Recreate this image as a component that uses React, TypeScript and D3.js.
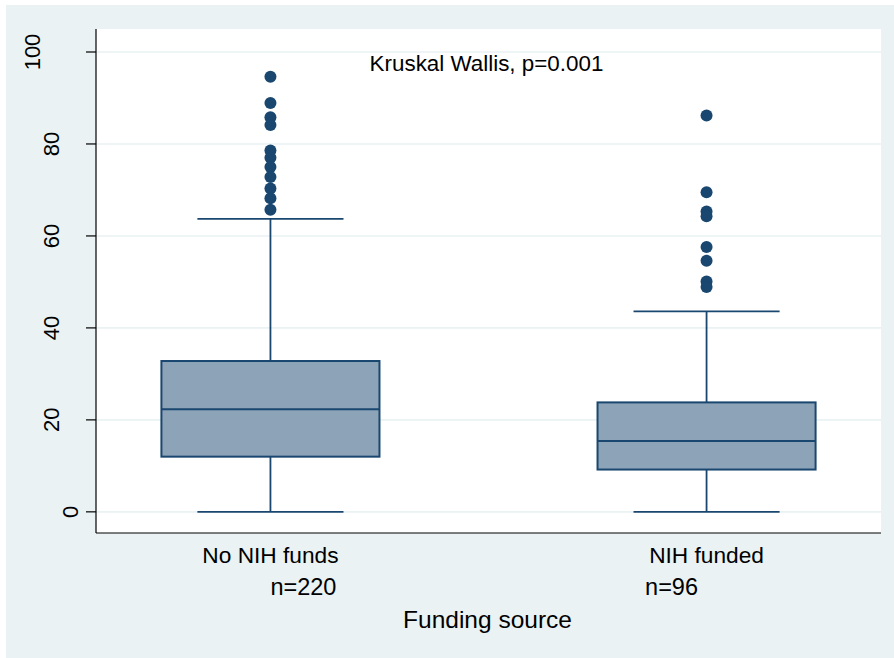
import * as d3 from "d3";
import { useEffect, useRef } from "react";

// data
const groups = ["No NIH funds", "NIH funded"];
const counts = [220, 96];
const lowerWhisker = [0, 0];
const q1 = [12.0, 9.2];
const median = [22.3, 15.4];
const q3 = [32.8, 23.8];
const upperWhisker = [63.7, 43.6];
const outliersNoNih = [94.6, 88.9, 85.8, 84.1, 78.6, 77.0, 75.0, 72.8, 70.3, 68.2, 65.7];
const outliersNih = [86.2, 69.5, 65.3, 64.3, 57.6, 54.6, 50.1, 48.9];
const yTicks = [0, 20, 40, 60, 80, 100];

export default function App() {
    const svgRef = useRef(null);
    const width = 894;
    const height = 658;

    useEffect(() => {
        const svg = d3.select(svgRef.current);
        svg.selectAll("*").remove();

        const navy = "#1a476f";
        const font = "'Liberation Sans', Arial, sans-serif";
        const left = 96, right = 881, top = 29, bottom = 533;

        svg.append("rect").attr("width", width).attr("height", height).attr("fill", "#ffffff");
        svg.append("rect")
            .attr("x", 6).attr("y", 5)
            .attr("width", width - 6).attr("height", height - 5)
            .attr("fill", "#eaf2f3");
        svg.append("rect")
            .attr("x", left).attr("y", top)
            .attr("width", right - left).attr("height", bottom - top)
            .attr("fill", "#ffffff");

        const x = d3.scalePoint().domain(groups).range([left, right]).padding(0.4);
        const y = d3.scaleLinear().domain([-4.6, 105]).range([bottom, top]);
        const step = x.step();
        const boxW = step * 0.5;
        const capW = step * 0.335;

        // grid
        svg.append("g")
            .selectAll("line")
            .data(yTicks)
            .join("line")
            .attr("x1", left).attr("x2", right)
            .attr("y1", d => y(d)).attr("y2", d => y(d))
            .attr("stroke", "#eaf2f3")
            .attr("stroke-width", 1.6);

        const boxes = groups.map((g, i) => ({
            g, lo: lowerWhisker[i], q1: q1[i], med: median[i], q3: q3[i], hi: upperWhisker[i]
        }));

        const bx = svg.append("g");
        // whiskers
        bx.selectAll("line.whisk")
            .data(boxes)
            .join("line")
            .attr("class", "whisk")
            .attr("x1", d => x(d.g)).attr("x2", d => x(d.g))
            .attr("y1", d => y(d.hi)).attr("y2", d => y(d.lo))
            .attr("stroke", navy).attr("stroke-width", 1.8);
        bx.selectAll("line.capHi")
            .data(boxes)
            .join("line")
            .attr("class", "capHi")
            .attr("x1", d => x(d.g) - capW / 2).attr("x2", d => x(d.g) + capW / 2)
            .attr("y1", d => y(d.hi)).attr("y2", d => y(d.hi))
            .attr("stroke", navy).attr("stroke-width", 1.8);
        bx.selectAll("line.capLo")
            .data(boxes)
            .join("line")
            .attr("class", "capLo")
            .attr("x1", d => x(d.g) - capW / 2).attr("x2", d => x(d.g) + capW / 2)
            .attr("y1", d => y(d.lo)).attr("y2", d => y(d.lo))
            .attr("stroke", navy).attr("stroke-width", 1.8);
        bx.selectAll("rect")
            .data(boxes)
            .join("rect")
            .attr("x", d => x(d.g) - boxW / 2)
            .attr("y", d => y(d.q3))
            .attr("width", boxW)
            .attr("height", d => y(d.q1) - y(d.q3))
            .attr("fill", "#8ca3b8")
            .attr("stroke", navy).attr("stroke-width", 2);
        bx.selectAll("line.med")
            .data(boxes)
            .join("line")
            .attr("class", "med")
            .attr("x1", d => x(d.g) - boxW / 2).attr("x2", d => x(d.g) + boxW / 2)
            .attr("y1", d => y(d.med)).attr("y2", d => y(d.med))
            .attr("stroke", navy).attr("stroke-width", 2);

        // outliers
        const pts = [
            ...outliersNoNih.map(v => ({ g: groups[0], v })),
            ...outliersNih.map(v => ({ g: groups[1], v }))
        ];
        svg.append("g")
            .selectAll("circle")
            .data(pts)
            .join("circle")
            .attr("cx", d => x(d.g))
            .attr("cy", d => y(d.v))
            .attr("r", 6)
            .attr("fill", navy);

        // y axis
        const ax = svg.append("g");
        ax.append("line")
            .attr("x1", left).attr("x2", left)
            .attr("y1", top).attr("y2", bottom)
            .attr("stroke", "#000").attr("stroke-width", 1.2);
        ax.selectAll("line.tick")
            .data(yTicks)
            .join("line")
            .attr("class", "tick")
            .attr("x1", left - 10).attr("x2", left)
            .attr("y1", d => y(d)).attr("y2", d => y(d))
            .attr("stroke", "#000").attr("stroke-width", 1.2);
        ax.selectAll("text")
            .data(yTicks)
            .join("text")
            .attr("transform", d => `translate(${97 - 19 * String(d).length},${y(d)}) rotate(-90)`)
            .attr("text-anchor", "middle")
            .attr("font-family", font)
            .attr("font-size", 22)
            .attr("fill", "#000")
            .text(d => d);

        // x axis
        svg.append("line")
            .attr("x1", left).attr("x2", right)
            .attr("y1", bottom).attr("y2", bottom)
            .attr("stroke", "#000").attr("stroke-width", 1.2);
        svg.append("g")
            .selectAll("text")
            .data(groups)
            .join("text")
            .attr("x", d => x(d))
            .attr("y", 563)
            .attr("text-anchor", "middle")
            .attr("font-family", font)
            .attr("font-size", 22.7)
            .text(d => d);

        const nOffset = [33, -35];
        svg.append("g")
            .selectAll("text")
            .data(counts)
            .join("text")
            .attr("x", (d, i) => x(groups[i]) + nOffset[i])
            .attr("y", 595)
            .attr("text-anchor", "middle")
            .attr("font-family", font)
            .attr("font-size", 23.5)
            .text(d => `n=${d}`);

        svg.append("text")
            .attr("x", (left + right) / 2 - 1)
            .attr("y", 628)
            .attr("text-anchor", "middle")
            .attr("font-family", font)
            .attr("font-size", 24.5)
            .text("Funding source");

        svg.append("text")
            .attr("x", (left + right) / 2 - 2)
            .attr("y", 71)
            .attr("text-anchor", "middle")
            .attr("font-family", font)
            .attr("font-size", 22.4)
            .text("Kruskal Wallis, p=0.001");
    }, []);

    return (
        <svg
            ref={svgRef}
            width={width}
            height={height}
            style={{ position: "absolute", left: 0, top: 0, display: "block" }}
        />
    );
}
